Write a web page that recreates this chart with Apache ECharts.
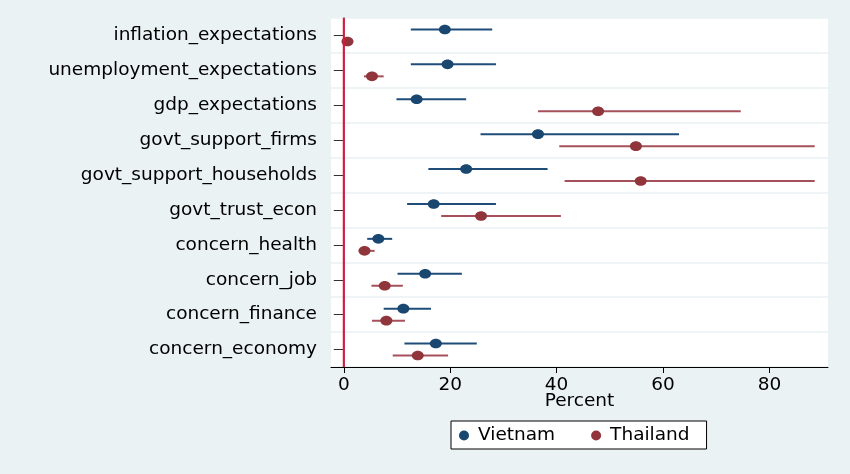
<!DOCTYPE html>
<html>
<head>
<meta charset="utf-8">
<script src="https://cdn.jsdelivr.net/npm/echarts@6/dist/echarts.min.js"></script>
<style>
  html, body { margin: 0; padding: 0; background: #eaf2f3; }
  #chart { width: 850px; height: 474px; }
</style>
</head>
<body>
<div id="chart"></div>
<script>
  // categories top to bottom
  var categories = ['inflation_expectations', 'unemployment_expectations', 'gdp_expectations',
    'govt_support_firms', 'govt_support_households', 'govt_trust_econ', 'concern_health',
    'concern_job', 'concern_finance', 'concern_economy'];

  // point estimate and confidence bounds (percent)
  var vietnamEst = [19.0, 19.5, 13.7, 36.5, 23.0, 16.9, 6.5, 15.3, 11.2, 17.3];
  var vietnamLo  = [12.6, 12.6, 9.9, 25.7, 15.9, 11.9, 4.4, 10.1, 7.5, 11.4];
  var vietnamHi  = [27.9, 28.6, 23.0, 63.0, 38.3, 28.6, 9.1, 22.2, 16.4, 25.0];

  var thailandEst = [0.7, 5.3, 47.8, 54.9, 55.8, 25.8, 3.9, 7.7, 8.0, 13.9];
  var thailandLo  = [0.3, 3.8, 36.5, 40.5, 41.5, 18.3, 2.8, 5.2, 5.3, 9.2];
  var thailandHi  = [1.1, 7.5, 74.6, 88.5, 88.5, 40.8, 5.8, 11.1, 11.5, 19.6];

  var xTicks = [0, 20, 40, 60, 80];

  var font = 'DejaVu Sans';

  function rows(est, lo, hi) {
    var out = [];
    for (var i = 0; i < est.length; i++) {
      out.push([est[i], lo[i], hi[i], i]);
    }
    return out;
  }

  function ciRenderer(offset, dotColor, barColor) {
    return function (params, api) {
      var cat = api.value(3);
      var p = api.coord([api.value(0), cat]);
      var a = api.coord([api.value(1), cat]);
      var b = api.coord([api.value(2), cat]);
      var y = p[1] + offset;
      return {
        type: 'group',
        children: [
          {
            type: 'line',
            shape: { x1: a[0], y1: y, x2: b[0], y2: y },
            style: { stroke: barColor, lineWidth: 2 }
          },
          {
            type: 'ellipse',
            shape: { cx: p[0], cy: y, rx: 6, ry: 4.8 },
            style: { fill: dotColor }
          }
        ]
      };
    };
  }

  var chart = echarts.init(document.getElementById('chart'));

  var option = {
    backgroundColor: '#eaf2f3',
    animation: false,
    textStyle: { fontFamily: font },
    grid: {
      left: 331, right: 22, top: 18, bottom: 107,
      show: true, backgroundColor: '#ffffff', borderWidth: 0
    },
    legend: {
      left: 451, top: 421,
      orient: 'horizontal',
      backgroundColor: '#ffffff',
      borderColor: '#000000',
      borderWidth: 1,
      borderRadius: 0,
      padding: [5, 17, 4, 8],
      itemWidth: 18, itemHeight: 10,
      itemGap: 36,
      icon: 'circle',
      textStyle: { fontFamily: font, fontSize: 18.5, color: '#000' },
      data: ['Vietnam', 'Thailand']
    },
    xAxis: {
      type: 'value',
      min: -2.4, max: 91,
      name: 'Percent',
      nameLocation: 'middle',
      nameGap: 25,
      nameMoveOverlap: false,
      nameTextStyle: { fontFamily: font, fontSize: 18.5, color: '#000' },
      axisLine: { show: true, lineStyle: { color: '#000', width: 1 } },
      axisTick: { show: true, length: 6, customValues: xTicks, lineStyle: { color: '#000' } },
      axisLabel: { customValues: xTicks, margin: 9, fontFamily: font, fontSize: 18.5, color: '#000' },
      splitLine: { show: false }
    },
    yAxis: {
      type: 'category',
      data: categories,
      inverse: true,
      axisLine: { show: true, lineStyle: { color: '#555', width: 1.5 } },
      axisTick: { show: true, alignWithLabel: true, length: 10, lineStyle: { color: '#333' } },
      axisLabel: { margin: 14, fontFamily: font, fontSize: 18.5, color: '#000' },
      splitLine: { show: true, lineStyle: { color: '#eaf2f3', width: 1.5 } }
    },
    series: [
      {
        name: 'Vietnam',
        type: 'custom',
        itemStyle: { color: '#1a476f' },
        renderItem: ciRenderer(-6, '#1a476f', '#1f4d78'),
        encode: { x: [0, 1, 2], y: 3 },
        data: rows(vietnamEst, vietnamLo, vietnamHi),
        z: 3
      },
      {
        name: 'Thailand',
        type: 'custom',
        itemStyle: { color: '#90353b' },
        renderItem: ciRenderer(6, '#90353b', '#a5505a'),
        encode: { x: [0, 1, 2], y: 3 },
        data: rows(thailandEst, thailandLo, thailandHi),
        z: 3
      },
      {
        // reference line at zero
        type: 'custom',
        silent: true,
        renderItem: function (params, api) {
          var p = api.coord([api.value(0), 0]);
          var cs = params.coordSys;
          return {
            type: 'line',
            shape: { x1: p[0], y1: cs.y, x2: p[0], y2: cs.y + cs.height },
            style: { stroke: '#e3153f', lineWidth: 2 }
          };
        },
        encode: { x: 0, y: 1 },
        data: [[0, 0]],
        z: 4
      }
    ]
  };

  chart.setOption(option);
</script>
</body>
</html>
